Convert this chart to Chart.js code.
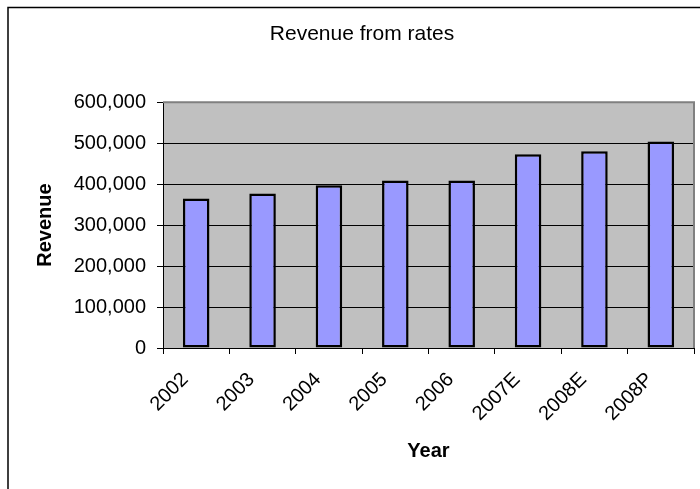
<!DOCTYPE html>
<html>
<head>
    <script src="https://cdn.jsdelivr.net/npm/chart.js@4.4.0/dist/chart.umd.min.js"></script>
    <style>
        body { margin: 0; background: white; }
        canvas#revenueChart { display: block; }
    </style>
</head>
<body>
    <canvas id="revenueChart" width="700" height="489"></canvas>

    <script>
        // chart data
        var years = ['2002', '2003', '2004', '2005', '2006', '2007E', '2008E', '2008P'];
        var revenue = [365000, 377000, 397000, 409000, 409000, 473000, 480000, 504000];
        var yMin = 0;
        var yMax = 600000;
        var yStep = 100000;

        var fontFamily = "'Liberation Sans', Arial, sans-serif";

        // grey plot area + grey top/right edge + outer frame
        var plotBackground = {
            id: 'plotBackground',
            beforeDraw: function(chart) {
                var a = chart.chartArea;
                var ctx = chart.ctx;
                ctx.save();
                ctx.fillStyle = '#C0C0C0';
                ctx.fillRect(a.left, a.top, a.right - a.left, a.bottom - a.top);
                ctx.restore();
            },
            afterDraw: function(chart) {
                var a = chart.chartArea;
                var ctx = chart.ctx;
                ctx.save();
                ctx.strokeStyle = '#808080';
                ctx.lineWidth = 2;
                ctx.beginPath();
                ctx.moveTo(a.left, a.top);
                ctx.lineTo(a.right, a.top);
                ctx.lineTo(a.right, a.bottom);
                ctx.stroke();

                // outer frame
                ctx.strokeStyle = '#000';
                ctx.lineWidth = 1.5;
                ctx.beginPath();
                ctx.moveTo(8, chart.height);
                ctx.lineTo(8, 7.5);
                ctx.lineTo(chart.width, 7.5);
                ctx.stroke();
                ctx.restore();
            }
        };

        var ctx = document.getElementById('revenueChart').getContext('2d');
        var chart = new Chart(ctx, {
            type: 'bar',
            data: {
                labels: years,
                datasets: [{
                    label: 'Revenue',
                    data: revenue,
                    backgroundColor: '#9999FF',
                    borderColor: '#000000',
                    borderWidth: 2.5,
                    borderSkipped: false,
                    barPercentage: 0.4,
                    categoryPercentage: 1.0
                }]
            },
            options: {
                responsive: false,
                animation: false,
                devicePixelRatio: 1,
                layout: {
                    padding: { left: 30, right: 6, top: 10, bottom: 0 }
                },
                plugins: {
                    legend: { display: false },
                    tooltip: { enabled: false },
                    title: {
                        display: true,
                        text: 'Revenue from rates',
                        color: '#000',
                        font: { family: fontFamily, size: 21, weight: 'normal' },
                        padding: { top: 12, bottom: 55 }
                    }
                },
                scales: {
                    x: {
                        border: { color: '#000', width: 1 },
                        grid: {
                            offset: true,
                            drawOnChartArea: false,
                            drawTicks: true,
                            tickLength: 6,
                            color: '#000'
                        },
                        ticks: {
                            color: '#000',
                            font: { family: fontFamily, size: 20 },
                            minRotation: 45,
                            maxRotation: 45,
                            padding: 14,
                            labelOffset: -11
                        },
                        title: {
                            display: true,
                            text: 'Year',
                            color: '#000',
                            font: { family: fontFamily, size: 20, weight: 'bold' },
                            padding: { top: 0, bottom: 26 }
                        },
                        afterFit: function(scale) {
                            scale.height = 141;
                        }
                    },
                    y: {
                        min: yMin,
                        max: yMax,
                        border: { color: '#000', width: 1 },
                        grid: {
                            color: '#000',
                            tickLength: 6
                        },
                        ticks: {
                            stepSize: yStep,
                            color: '#000',
                            padding: 11,
                            font: { family: fontFamily, size: 20 },
                            callback: function(value) {
                                return value.toLocaleString('en-US');
                            }
                        },
                        title: {
                            display: true,
                            text: 'Revenue',
                            color: '#000',
                            font: { family: fontFamily, size: 20, weight: 'bold' },
                            padding: { top: 3, bottom: 0 }
                        },
                        afterFit: function(scale) {
                            scale.width = 133;
                        }
                    }
                }
            },
            plugins: [plotBackground]
        });
    </script>
</body>
</html>
